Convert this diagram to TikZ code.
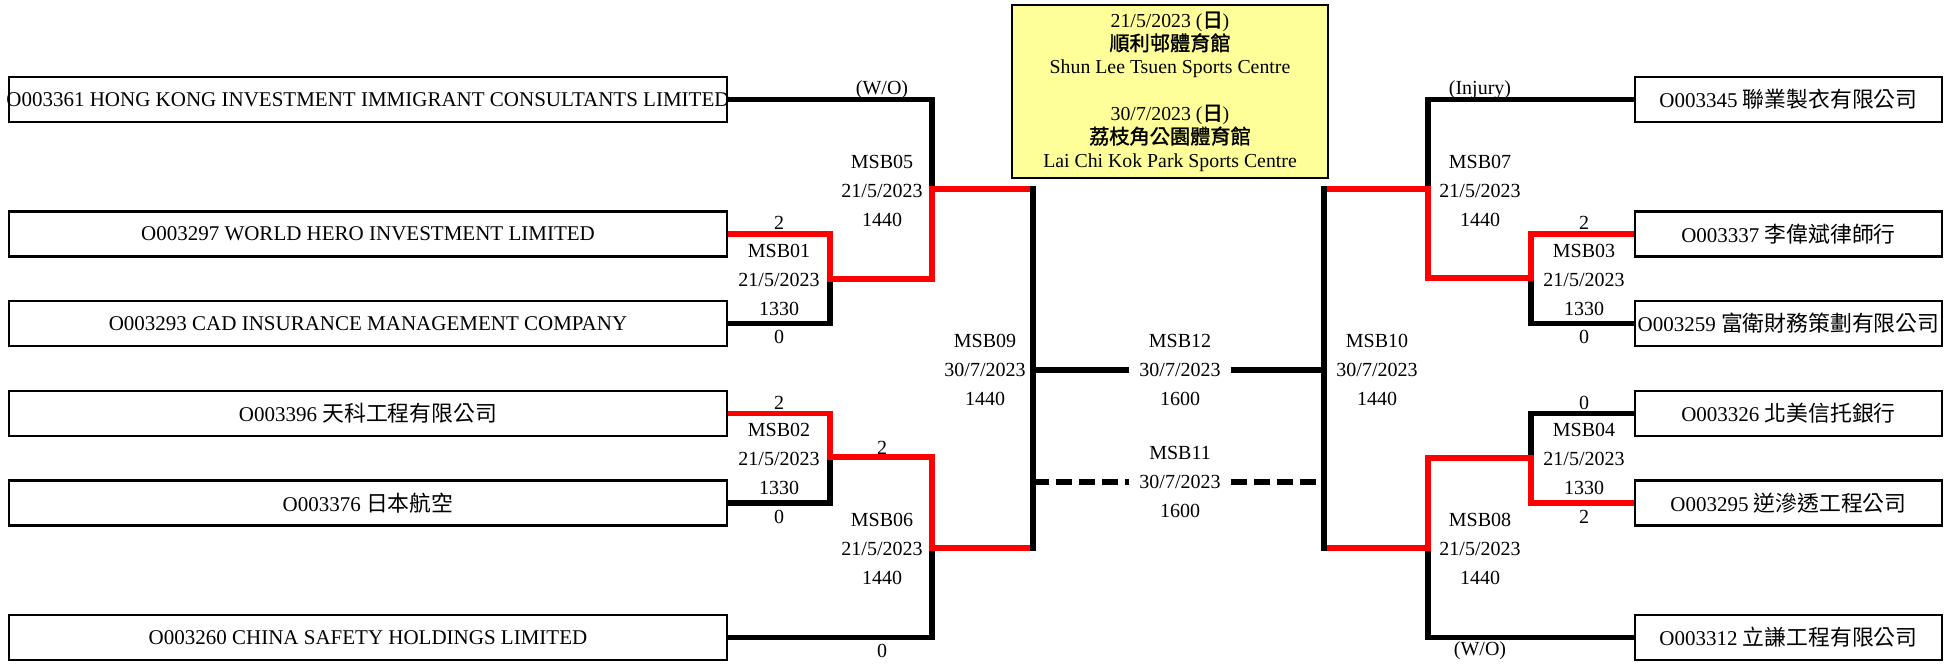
\documentclass[tikz,border=0pt]{standalone}
\usepackage{fontspec}
\setmainfont{Liberation Serif}
\newfontfamily\cjk[Scale=1.04]{Noto Sans CJK TC}
\newfontfamily\cjkb[Scale=1.02,FakeBold=1.5]{Noto Sans CJK TC}
\definecolor{yellowbg}{RGB}{255,255,153}
\begin{document}
\begin{tikzpicture}[x=0.5pt,y=-0.5pt,
  team/.style={draw, line width=1.1pt, inner sep=0, minimum height=22.5pt, font=\fontsize{10.5}{12}\selectfont},
  lteam/.style={team, minimum width=359pt},
  rteam/.style={team, minimum width=153.5pt},
  lbl/.style={inner sep=0, align=center, font=\fontsize{10}{14.5}\selectfont},
  score/.style={inner sep=0, font=\fontsize{10}{12}\selectfont},
  lose/.style={line width=2.75pt, black},
  win/.style={line width=2.75pt, red},
  ]
\useasboundingbox (0,0) rectangle (1952,667);

% venue box
\node[draw, line width=1.4pt, fill=yellowbg, minimum width=158pt, minimum height=86.5pt,
  inner sep=0, align=center, font=\fontsize{9.9}{11.65}\selectfont] (venue) at (1170,91.5)
  {21/5/2023 ({\cjkb 日})\\{\cjkb 順利邨體育館}\\Shun Lee Tsuen Sports Centre\\[11.65pt]30/7/2023 ({\cjkb 日})\\{\cjkb 荔枝角公園體育館}\\Lai Chi Kok Park Sports Centre};

% team boxes left
\begin{scope}
\clip (7.5,75.5) rectangle (728.5,123.5);
\node[lteam] (t1) at (368,99.5) {\makebox[0pt]{O003361 HONG KONG INVESTMENT IMMIGRANT CONSULTANTS LIMITED}};
\end{scope}
\node[lteam] (t2) at (368,234) {\makebox[0pt]{O003297 WORLD HERO INVESTMENT LIMITED}};
\node[lteam] (t3) at (368,323.5) {\makebox[0pt]{O003293 CAD INSURANCE MANAGEMENT COMPANY}};
\node[lteam] (t4) at (368,413.5) {\makebox[0pt]{O003396 {\cjk 天科工程有限公司}}};
\node[lteam] (t5) at (368,503) {\makebox[0pt]{O003376 {\cjk 日本航空}}};
\node[lteam] (t6) at (368,637.5) {\makebox[0pt]{O003260 CHINA SAFETY HOLDINGS LIMITED}};

% team boxes right
\node[rteam] (t7) at (1788.5,99.5) {\makebox[0pt]{O003345 {\cjk 聯業製衣有限公司}}};
\node[rteam] (t8) at (1788.5,234) {\makebox[0pt]{O003337 {\cjk 李偉斌律師行}}};
\node[rteam] (t9) at (1788.5,323.5) {\makebox[0pt]{O003259 {\cjk 富衛財務策劃有限公司}}};
\node[rteam] (t10) at (1788.5,413.5) {\makebox[0pt]{O003326 {\cjk 北美信托銀行}}};
\node[rteam] (t11) at (1788.5,503) {\makebox[0pt]{O003295 {\cjk 逆滲透工程公司}}};
\node[rteam] (t12) at (1788.5,637.5) {\makebox[0pt]{O003312 {\cjk 立謙工程有限公司}}};

% match labels
\node[lbl] (m05) at (882,191) {MSB05\\21/5/2023\\1440};
\node[lbl] (m01) at (779,280) {MSB01\\21/5/2023\\1330};
\node[lbl] (m02) at (779,459) {MSB02\\21/5/2023\\1330};
\node[lbl] (m06) at (882,549) {MSB06\\21/5/2023\\1440};
\node[lbl] (m09) at (985,370) {MSB09\\30/7/2023\\1440};
\node[lbl, inner xsep=5pt] (m12) at (1180,370) {MSB12\\30/7/2023\\1600};
\node[lbl, inner xsep=5pt] (m11) at (1180,482) {MSB11\\30/7/2023\\1600};
\node[lbl] (m10) at (1377,370) {MSB10\\30/7/2023\\1440};
\node[lbl] (m07) at (1480,191) {MSB07\\21/5/2023\\1440};
\node[lbl] (m03) at (1584,280) {MSB03\\21/5/2023\\1330};
\node[lbl] (m04) at (1584,459) {MSB04\\21/5/2023\\1330};
\node[lbl] (m08) at (1480,549) {MSB08\\21/5/2023\\1440};

% scores
\node[score] (s1) at (882,90) {(W/O)};
\node[score] (s2) at (779,223) {2};
\node[score] (s3) at (779,337) {0};
\node[score] (s4) at (779,403) {2};
\node[score] (s5) at (779,517) {0};
\node[score] (s6) at (882,448) {2};
\node[score] (s7) at (882,651) {0};
\node[score] (s8) at (1480,90) {(Injury)};
\node[score] (s9) at (1584,223) {2};
\node[score] (s10) at (1584,337) {0};
\node[score] (s11) at (1584,403) {0};
\node[score] (s12) at (1584,517) {2};
\node[score] (s13) at (1480,651) {(W/O)};

% junctions
\coordinate (j01) at (830,279);
\coordinate (j02) at (830,457);
\coordinate (j05) at (932,189);
\coordinate (j06) at (932,548);
\coordinate (j09a) at (1033,189);
\coordinate (j09b) at (1033,548);
\coordinate (j10a) at (1324,189);
\coordinate (j10b) at (1324,548);
\coordinate (j07) at (1428,189);
\coordinate (j08) at (1428,548);
\coordinate (j03) at (1531,278);
\coordinate (j04) at (1531,458);

% losing paths
\draw[lose] (t1.east) -| (j05);
\draw[lose] (t3.east) -| (j01);
\draw[lose] (t5.east) -| (j02);
\draw[lose] (t6.east) -| (j06);
\draw[lose] (t7.west) -| (j07);
\draw[lose] (t9.west) -| (j03);
\draw[lose] (t10.west) -| (j04);
\draw[lose] (t12.west) -| (j08);

% winning paths
\draw[win] (t2.east) -| (j01) -| (j05) -- (j09a);
\draw[win] (t4.east) -| (j02) -| (j06) -- (j09b);
\draw[win] (j10a) -- (j07) |- (j03) |- (t8.west);
\draw[win] (j10b) -- (j08) |- (j04) |- (t11.west);

% semi-final verticals
\draw[lose, line cap=rect] (j09a) -- (j09b);
\draw[lose, line cap=rect] (j10a) -- (j10b);

% final and third place
\draw[lose] (m12.west -| j09a) -- (m12.west);
\draw[lose] (m12.east) -- (m12.east -| j10a);
\draw[lose, dash pattern=on 8pt off 3.5pt] (m11.west -| j09a) -- (m11.west);
\draw[lose, dash pattern=on 8pt off 3.5pt] (m11.east) -- (m11.east -| j10a);
\end{tikzpicture}
\end{document}
